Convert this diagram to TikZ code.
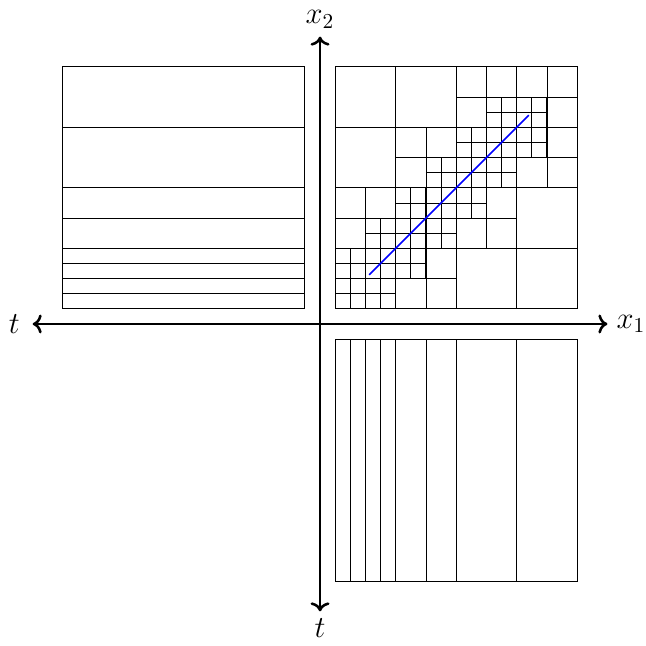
\documentclass[tikz,border=0pt]{standalone}
\usepackage{tikz}
\usetikzlibrary{arrows.meta, positioning, calc}

\begin{document}
\begin{tikzpicture}[
  x=0.25cm, y=0.25cm,
  font=\Large,
  panel/.style={draw=black, line width=0.4pt},
  axis/.style={<->, very thick},
  axislabel/.style={inner sep=0pt},
  trace/.style={thick, color=blue}
]
  \useasboundingbox (-21.16,-21.29) rectangle (21.55,21.42);

  % axes
  \coordinate (west)  at (-19,0);
  \coordinate (east)  at (19,0);
  \coordinate (north) at (0,19);
  \coordinate (south) at (0,-19);
  \draw[axis] (west) -- (east);
  \draw[axis] (south) -- (north);
  \node[axislabel] (lx1) at (20.56,0)   {$x_1$};
  \node[axislabel] (lt1) at (-20.22,0)  {$t$};
  \node[axislabel] (lx2) at (0,20.15)   {$x_2$};
  \node[axislabel] (lt2) at (0,-20.1)   {$t$};

  % t--x2 projection
  \draw[panel] (-17,1) rectangle (-1,17);
  \foreach \h in {1,2,3,4,6,8,12}
    \draw[panel] (-17,1+\h) -- (-1,1+\h);

  % x1--t projection
  \draw[panel] (1,-17) rectangle (17,-1);
  \foreach \v in {1,2,3,4,6,8,12}
    \draw[panel] (1+\v,-17) -- (1+\v,-1);

  % quadtree in x1--x2
  \begin{scope}[shift={(1,1)}]
    \draw[panel] (0,0) rectangle (16,16);
    \draw[panel] (8,0) -- (8,16) (0,8) -- (16,8);
    \draw[panel] (4,0) -- (4,16) (12,0) -- (12,16) (0,4) -- (16,4) (0,12) -- (16,12);
    \foreach \bx/\by in {0/0,0/4,4/0,4/4,4/8,8/4,8/8,8/12,12/8,12/12}
      \draw[panel] (\bx+2,\by) -- (\bx+2,\by+4) (\bx,\by+2) -- (\bx+4,\by+2);
    \foreach \cx/\cy in {0/0,2/0,0/2,2/2,2/4,4/2,4/4,6/4,4/6,6/6,6/8,8/6,
                         8/8,10/8,8/10,10/10,12/10,10/12,12/12}
      \draw[panel, step=1] (\cx,\cy) grid (\cx+2,\cy+2);
    \coordinate (p0) at (2.25,2.25);
    \coordinate (p1) at (12.8,12.8);
    \draw[trace] (p0) -- (p1);
  \end{scope}
\end{tikzpicture}
\end{document}
